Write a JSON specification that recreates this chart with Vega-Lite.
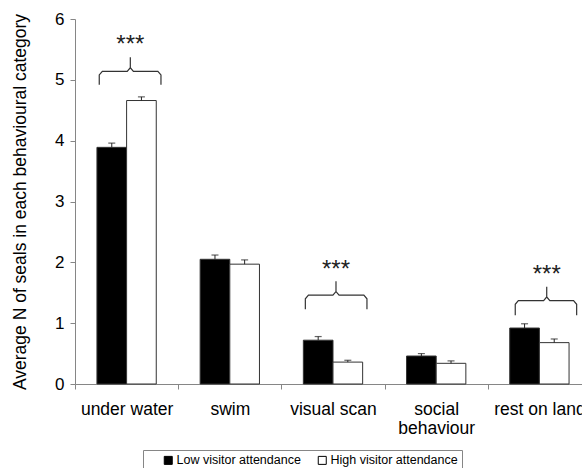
{
  "$schema": "https://vega.github.io/schema/vega-lite/v6.json",
  "width": 516,
  "height": 365,
  "padding": {"left": 11, "top": 10, "right": 0, "bottom": 0},
  "background": "white",
  "config": {
    "font": "Liberation Sans",
    "view": {"stroke": null},
    "axis": {"grid": false, "domainColor": "#868686", "tickColor": "#868686", "labelColor": "#000", "titleColor": "#000", "titleFontWeight": "normal"}
  },
  "datasets": {
    "bars": [
      {"behaviour": "under water", "attendance": "Low visitor attendance", "mean": 3.89, "upper": 3.96},
      {"behaviour": "under water", "attendance": "High visitor attendance", "mean": 4.66, "upper": 4.72},
      {"behaviour": "swim", "attendance": "Low visitor attendance", "mean": 2.05, "upper": 2.12},
      {"behaviour": "swim", "attendance": "High visitor attendance", "mean": 1.97, "upper": 2.04},
      {"behaviour": "visual scan", "attendance": "Low visitor attendance", "mean": 0.72, "upper": 0.78},
      {"behaviour": "visual scan", "attendance": "High visitor attendance", "mean": 0.36, "upper": 0.39},
      {"behaviour": "social behaviour", "attendance": "Low visitor attendance", "mean": 0.46, "upper": 0.5},
      {"behaviour": "social behaviour", "attendance": "High visitor attendance", "mean": 0.34, "upper": 0.38},
      {"behaviour": "rest on land", "attendance": "Low visitor attendance", "mean": 0.92, "upper": 0.99},
      {"behaviour": "rest on land", "attendance": "High visitor attendance", "mean": 0.68, "upper": 0.74}
    ],
    "braces": [
      {"brace": "a", "k": 1, "bx": 0.235, "by": 4.92},
      {"brace": "a", "k": 2, "bx": 0.235, "by": 5.08},
      {"brace": "a", "k": 3, "bx": 0.265, "by": 5.14},
      {"brace": "a", "k": 4, "bx": 0.506, "by": 5.14},
      {"brace": "a", "k": 5, "bx": 0.536, "by": 5.2},
      {"brace": "a", "k": 6, "bx": 0.536, "by": 5.37},
      {"brace": "a", "k": 7, "bx": 0.536, "by": 5.2},
      {"brace": "a", "k": 8, "bx": 0.566, "by": 5.14},
      {"brace": "a", "k": 9, "bx": 0.803, "by": 5.14},
      {"brace": "a", "k": 10, "bx": 0.833, "by": 5.08},
      {"brace": "a", "k": 11, "bx": 0.833, "by": 4.92},
      {"brace": "b", "k": 1, "bx": 2.232, "by": 1.23},
      {"brace": "b", "k": 2, "bx": 2.232, "by": 1.4},
      {"brace": "b", "k": 3, "bx": 2.262, "by": 1.46},
      {"brace": "b", "k": 4, "bx": 2.499, "by": 1.46},
      {"brace": "b", "k": 5, "bx": 2.529, "by": 1.52},
      {"brace": "b", "k": 6, "bx": 2.529, "by": 1.69},
      {"brace": "b", "k": 7, "bx": 2.529, "by": 1.52},
      {"brace": "b", "k": 8, "bx": 2.559, "by": 1.46},
      {"brace": "b", "k": 9, "bx": 2.799, "by": 1.46},
      {"brace": "b", "k": 10, "bx": 2.829, "by": 1.4},
      {"brace": "b", "k": 11, "bx": 2.829, "by": 1.23},
      {"brace": "c", "k": 1, "bx": 4.266, "by": 1.13},
      {"brace": "c", "k": 2, "bx": 4.266, "by": 1.31},
      {"brace": "c", "k": 3, "bx": 4.296, "by": 1.37},
      {"brace": "c", "k": 4, "bx": 4.541, "by": 1.37},
      {"brace": "c", "k": 5, "bx": 4.571, "by": 1.43},
      {"brace": "c", "k": 6, "bx": 4.571, "by": 1.6},
      {"brace": "c", "k": 7, "bx": 4.571, "by": 1.43},
      {"brace": "c", "k": 8, "bx": 4.601, "by": 1.37},
      {"brace": "c", "k": 9, "bx": 4.831, "by": 1.37},
      {"brace": "c", "k": 10, "bx": 4.861, "by": 1.31},
      {"brace": "c", "k": 11, "bx": 4.861, "by": 1.13}
    ],
    "stars": [
      {"sx": 0.536, "sy": 5.45, "label": "***"},
      {"sx": 2.529, "sy": 1.76, "label": "***"},
      {"sx": 4.571, "sy": 1.68, "label": "***"}
    ]
  },
  "layer": [
    {
      "data": {"name": "bars"},
      "encoding": {
        "x": {
          "field": "behaviour", "type": "nominal",
          "sort": ["under water", "swim", "visual scan", "social behaviour", "rest on land"],
          "scale": {"paddingInner": 0, "paddingOuter": 0},
          "axis": {"title": null, "labelAngle": 0, "tickBand": "extent", "tickSize": 5, "labelPadding": 11, "labelFontSize": 17.5, "labelExpr": "datum.label == 'social behaviour' ? ['social', 'behaviour'] : datum.label", "labelLineHeight": 19}
        },
        "xOffset": {
          "field": "attendance", "type": "nominal",
          "sort": ["Low visitor attendance", "High visitor attendance"],
          "scale": {"paddingInner": 0, "paddingOuter": 0.74}
        }
      },
      "layer": [
        {
          "mark": {"type": "bar", "stroke": "#333", "strokeWidth": 1},
          "encoding": {
            "y": {
              "field": "mean", "type": "quantitative",
              "scale": {"domain": [0, 6]},
              "axis": {"values": [0, 1, 2, 3, 4, 5, 6], "format": "d", "title": "Average N of seals in each behavioural category", "titleFontSize": 17.5, "labelFontSize": 17, "tickSize": 5, "labelPadding": 6, "titlePadding": 25}
            },
            "color": {
              "field": "attendance", "type": "nominal",
              "scale": {"domain": ["Low visitor attendance", "High visitor attendance"], "range": ["#000000", "#ffffff"]},
              "legend": {
                "title": null, "orient": "none", "direction": "horizontal", "legendX": 68, "legendY": 431,
                "symbolType": "square", "symbolSize": 64, "symbolStrokeColor": "#000", "symbolStrokeWidth": 1,
                "symbolOffset": 15, "columnPadding": -6, "labelOffset": 2, "labelFontSize": 12.5, "labelColor": "#000",
                "strokeColor": "#868686", "fillColor": "white", "padding": 4,
                "labelExpr": "datum.label == 'High visitor attendance' ? datum.label + '             ' : datum.label"
              }
            }
          }
        },
        {
          "mark": {"type": "rule", "color": "#222", "strokeWidth": 1},
          "encoding": {
            "y": {"field": "mean", "type": "quantitative"},
            "y2": {"field": "upper"}
          }
        },
        {
          "mark": {"type": "tick", "color": "#222", "thickness": 1.2, "size": 7, "orient": "horizontal"},
          "encoding": {
            "y": {"field": "upper", "type": "quantitative"}
          }
        }
      ]
    },
    {
      "layer": [
        {
          "data": {"name": "braces"},
          "mark": {"type": "line", "color": "#333", "strokeWidth": 1.2},
          "encoding": {
            "x": {"field": "bx", "type": "quantitative", "scale": {"domain": [0, 5], "nice": false, "zero": false}, "axis": null},
            "y": {"field": "by", "type": "quantitative"},
            "detail": {"field": "brace"},
            "order": {"field": "k"}
          }
        },
        {
          "data": {"name": "stars"},
          "mark": {"type": "text", "fontSize": 24, "baseline": "alphabetic", "align": "center", "color": "#222"},
          "encoding": {
            "x": {"field": "sx", "type": "quantitative", "scale": {"domain": [0, 5], "nice": false, "zero": false}, "axis": null},
            "y": {"field": "sy", "type": "quantitative"},
            "text": {"field": "label"}
          }
        }
      ]
    }
  ],
  "resolve": {"scale": {"x": "independent", "xOffset": "independent"}}
}
